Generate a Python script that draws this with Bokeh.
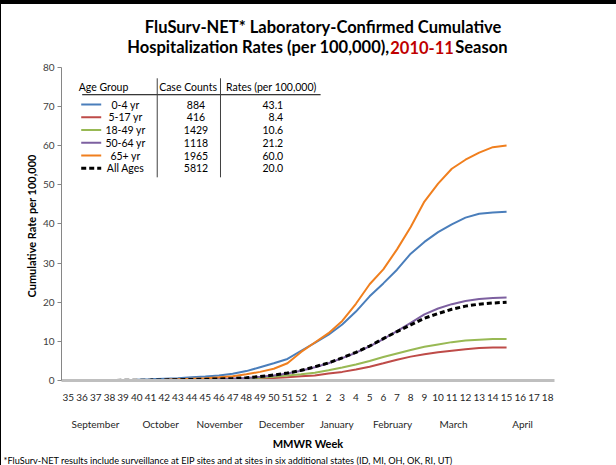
from bokeh.plotting import figure
from bokeh.models import (Range1d, FixedTicker, Label, ColumnDataSource, LinearAxis, Title)
from bokeh.core.properties import value
from bokeh.embed import file_html
from bokeh.resources import INLINE

# ---------------- data ----------------
weeks = [str(w) for w in list(range(35, 53)) + list(range(1, 19))]

rate_0_4 = [0.0, 0.0, 0.05, 0.1, 0.15, 0.2, 0.3, 0.45, 0.6, 0.8, 1.0, 1.3, 1.7, 2.4, 3.4, 4.4, 5.5, 7.6,
            9.6, 11.7, 14.3, 17.6, 21.5, 24.8, 28.3, 32.4, 35.4, 37.9, 39.9, 41.6, 42.6, 42.9, 43.1]
rate_5_17 = [0.0, 0.0, 0.0, 0.01, 0.02, 0.03, 0.05, 0.07, 0.1, 0.13, 0.17, 0.22, 0.28, 0.37, 0.5, 0.65, 0.85, 1.1,
             1.3, 1.8, 2.2, 2.8, 3.5, 4.4, 5.3, 6.1, 6.7, 7.2, 7.6, 8.0, 8.3, 8.4, 8.4]
rate_18_49 = [0.0, 0.0, 0.0, 0.01, 0.02, 0.04, 0.06, 0.09, 0.12, 0.16, 0.2, 0.25, 0.3, 0.5, 0.7, 0.95, 1.25, 1.6,
              2.0, 2.6, 3.3, 4.1, 5.0, 6.0, 6.9, 7.8, 8.6, 9.2, 9.8, 10.2, 10.4, 10.6, 10.6]
rate_50_64 = [0.0, 0.0, 0.01, 0.02, 0.04, 0.06, 0.09, 0.13, 0.18, 0.23, 0.3, 0.38, 0.48, 0.65, 0.95, 1.3, 1.8, 2.5,
              3.4, 4.4, 5.7, 7.1, 8.7, 10.6, 12.6, 14.7, 16.9, 18.4, 19.5, 20.3, 20.8, 21.1, 21.2]
rate_65 = [0.0, 0.0, 0.0, 0.02, 0.05, 0.08, 0.12, 0.2, 0.3, 0.45, 0.6, 0.8, 1.1, 1.6, 2.2, 3.0, 4.4, 7.3,
           9.7, 12.1, 15.2, 19.6, 24.6, 28.4, 33.5, 39.2, 45.7, 50.3, 54.1, 56.4, 58.2, 59.6, 60.0]
rate_all = [0.0, 0.0, 0.01, 0.02, 0.04, 0.07, 0.1, 0.15, 0.2, 0.25, 0.32, 0.4, 0.5, 0.7, 1.0, 1.4, 1.9, 2.6,
            3.5, 4.5, 5.8, 7.2, 8.8, 10.7, 12.5, 14.2, 15.9, 17.1, 18.2, 19.0, 19.5, 19.8, 20.0]

age_groups = ["0-4 yr", "5-17 yr", "18-49 yr", "50-64 yr", "65+ yr", "All Ages"]
case_counts = ["884", "416", "1429", "1118", "1965", "5812"]
final_rates = ["43.1", "8.4", "10.6", "21.2", "60.0", "20.0"]

months = ["September", "October", "November", "December", "January", "February", "March", "April"]
month_pos = [2.48, 7.24, 11.54, 16.07, 20.09, 24.17, 28.63, 33.67]

y_ticks = [0, 10, 20, 30, 40, 50, 60, 70, 80]

# ---------------- styles ----------------
FONT = "Lato"
colors = ["#4A7EBB", "#BE4B48", "#98B954", "#7D60A0", "#F07F1E", "#000000"]
series = [rate_0_4, rate_5_17, rate_18_49, rate_50_64, rate_65, rate_all]

# category centres on a numeric axis (one unit per week)
week_x = [i + 0.5 for i in range(len(weeks))]
data_x = week_x[:len(rate_all)]

W, H = 616, 465
p = figure(width=W, height=H, x_range=Range1d(0, len(weeks)), y_range=Range1d(0, 97.07),
           output_backend="svg", toolbar_location=None,
           min_border_left=61, min_border_right=62, min_border_top=0, min_border_bottom=84)
p.outline_line_color = None
p.xgrid.visible = False
p.ygrid.visible = False
p.background_fill_color = None
p.border_fill_color = None
p.styles = {"box-shadow": "inset 3px 6px 0 -2px #000"}

# y axis
p.yaxis.bounds = (0, 80)
p.yaxis.ticker = FixedTicker(ticks=y_ticks)
p.yaxis.axis_line_color = "#868686"
p.yaxis.major_tick_line_color = "#868686"
p.yaxis.major_tick_out = 4
p.yaxis.major_tick_in = 0
p.yaxis.minor_tick_line_color = None
p.yaxis.major_label_text_font = FONT
p.yaxis.major_label_text_font_size = "10px"
p.yaxis.major_label_text_color = "#404040"
p.yaxis.major_label_standoff = 3

# y axis title, centred on the 0-80 part of the axis
ytitle = Title(text="Cumulative Rate per 100,000", align="left", offset=83,
               text_font=FONT, text_font_size="11px", text_font_style="bold",
               text_color="black", standoff=4)
p.add_layout(ytitle, "left")

# x axis (weeks)
p.xaxis.ticker = FixedTicker(ticks=week_x)
p.xaxis.major_label_overrides = {x: w for x, w in zip(week_x, weeks)}
p.xaxis.axis_line_color = "#BFBFBF"
p.xaxis.axis_line_width = 3
p.xaxis.major_tick_line_color = None
p.xaxis.minor_tick_line_color = None
p.xaxis.major_label_text_font = FONT
p.xaxis.major_label_text_font_size = "10px"
p.xaxis.major_label_text_color = "#262626"
p.xaxis.major_label_standoff = 7

# second axis: months + axis title
max_ = LinearAxis(ticker=FixedTicker(ticks=month_pos),
                  major_label_overrides={pos: m for pos, m in zip(month_pos, months)})
max_.axis_line_color = None
max_.major_tick_line_color = None
max_.minor_tick_line_color = None
max_.major_label_text_font = FONT
max_.major_label_text_font_size = "10px"
max_.major_label_text_color = "#262626"
max_.major_label_standoff = 8
max_.axis_label = "MMWR Week"
max_.axis_label_text_font = FONT
max_.axis_label_text_font_size = "11px"
max_.axis_label_text_font_style = "bold"
max_.axis_label_text_color = "black"
max_.axis_label_standoff = 4
p.add_layout(max_, "below")

foot = Title(text="*FluSurv-NET results include surveillance at EIP sites and at sites in six additional states (ID, MI, OH, OK, RI, UT)",
             align="left", offset=-58, text_font=FONT, text_font_size="9.2px",
             text_font_style="normal", text_color="black", standoff=0)
p.add_layout(foot, "below")

# series lines
for vals, col in zip(series[:5], colors[:5]):
    p.line(x=data_x, y=vals, line_color=col, line_width=2)
p.line(x=data_x, y=rate_all, line_color="black", line_width=3, line_dash="5 3")

# ---------------- legend table ----------------
row_y0 = 70.5
row_step = 3.26
row_ys = [row_y0 - i * row_step for i in range(len(age_groups))]
hdr_y = 74.9
p.text(x=[3.07, 9.24, 15.32], y=[hdr_y] * 3, text=["Age Group", "Case Counts", "Rates (per 100,000)"],
       text_font=value(FONT), text_font_size="10.5px", text_align="center", text_baseline="middle",
       text_color="black")
p.segment(x0=[1.51], y0=[73.0], x1=[18.92], y1=[73.0], line_color="black", line_width=1)
p.segment(x0=[6.99, 11.61], y0=[77.2, 77.2], x1=[6.99, 11.61], y1=[51.9, 51.9], line_color="#404040", line_width=1)
for i, col in enumerate(colors):
    if i < 5:
        p.segment(x0=[1.44], y0=[row_ys[i]], x1=[2.9], y1=[row_ys[i]], line_color=col, line_width=2)
    else:
        p.segment(x0=[1.44], y0=[row_ys[i]], x1=[2.9], y1=[row_ys[i]], line_color="black", line_width=3,
                  line_dash="5 3")
src = ColumnDataSource(dict(y=row_ys, g=age_groups, c=case_counts, r=final_rates))
p.text(x=4.675, y="y", text="g", source=src, text_font=value(FONT), text_font_size="10.5px",
       text_align="center", text_baseline="middle", text_color="black")
p.text(x=9.82, y="y", text="c", source=src, text_font=value(FONT), text_font_size="10.5px",
       text_align="center", text_baseline="middle", text_color="black")
p.text(x=16.19, y="y", text="r", source=src, text_font=value(FONT), text_font_size="10.5px",
       text_align="right", text_baseline="middle", text_color="black")

# ---------------- title (inside the extended frame) ----------------
def lab(x, y, text, size, bold=False, color="black", align="center"):
    p.add_layout(Label(x=x, y=y, text=text, text_font=FONT, text_font_size=size,
                       text_font_style="bold" if bold else "normal", text_color=color,
                       text_align=align, text_baseline="middle"))

TS = "16.5px"
lab(19.1, 90.2, "FluSurv-NET* Laboratory-Confirmed Cumulative", TS, bold=True)
lab(23.95, 85.1, "Hospitalization Rates (per 100,000),", TS, bold=True, align="right")
lab(26.33, 85.1, "2010-11", TS, bold=True, color="#C00000")
lab(28.75, 85.1, "Season", TS, bold=True, align="left")

open("out.html", "w").write(file_html(p, INLINE))
